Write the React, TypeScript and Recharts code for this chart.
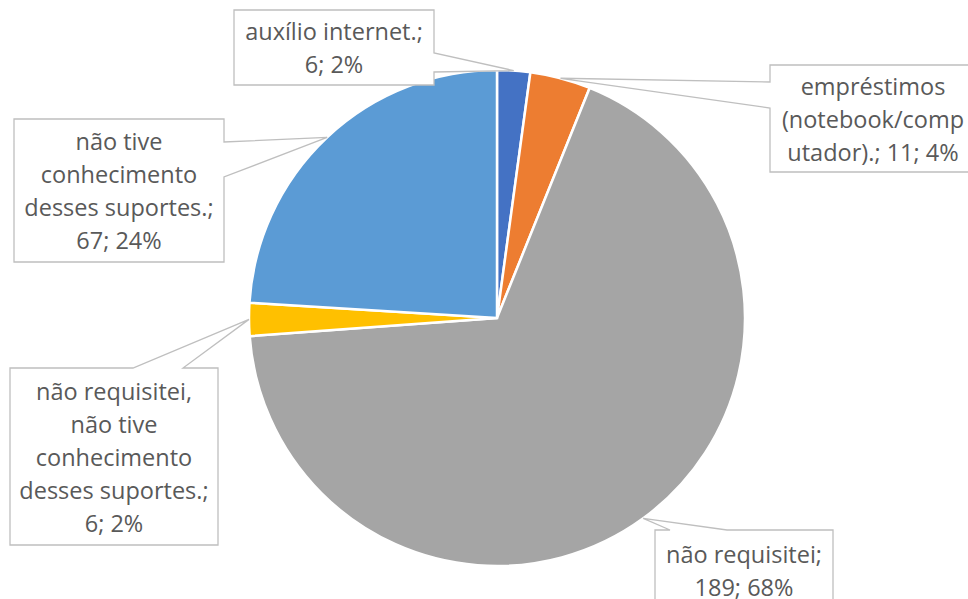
import { Pie, PieChart, Cell } from 'recharts';

// categorias na ordem em que aparecem (sentido horário a partir do topo)
const categories = [
  'auxílio internet.',
  'empréstimos (notebook/computador).',
  'não requisitei',
  'não requisitei, não tive conhecimento desses suportes.',
  'não tive conhecimento desses suportes.',
];
const values = [6, 11, 189, 6, 67];
const percents = [2, 4, 68, 2, 24];
const colors = ['#4472C4', '#ED7D31', '#A5A5A5', '#FFC000', '#5B9BD5'];

// texto dos rótulos, quebrado como no original
const labelLines = [
  ['auxílio internet.;', '6; 2%'],
  ['empréstimos', '(notebook/comp', 'utador).; 11; 4%'],
  ['não requisitei;', '189; 68%'],
  ['não requisitei,', 'não tive', 'conhecimento', 'desses suportes.;', '6; 2%'],
  ['não tive', 'conhecimento', 'desses suportes.;', '67; 24%'],
];

// caixas dos rótulos (layout) e base do "bico" do balão
const labelBoxes = [
  { x: 234, y: 10, w: 200, h: 75, side: 'right', a1: 53, a2: 72 },
  { x: 770, y: 65, w: 206, h: 107, side: 'left', a1: 82, a2: 108 },
  { x: 655, y: 530, w: 178, h: 80, side: 'top', a1: 670, a2: 727 },
  { x: 10, y: 368, w: 208, h: 177, side: 'top', a1: 133, a2: 183 },
  { x: 14, y: 119, w: 210, h: 143, side: 'right', a1: 142, a2: 177 },
];

const data = categories.map((name, i) => ({
  name,
  value: values[i],
  pct: percents[i],
}));

const RAD = Math.PI / 180;
const LINE_H = 33;

function calloutPath(b: (typeof labelBoxes)[number], tx: number, ty: number) {
  const { x, y, w, h, side, a1, a2 } = b;
  if (side === 'right') {
    return `M${x},${y} H${x + w} V${a1} L${tx},${ty} L${x + w},${a2} V${y + h} H${x} Z`;
  }
  if (side === 'left') {
    return `M${x},${y} H${x + w} V${y + h} H${x} V${a2} L${tx},${ty} L${x},${a1} Z`;
  }
  return `M${x},${y} H${a1} L${tx},${ty} L${a2},${y} H${x + w} V${y + h} H${x} Z`;
}

function renderLabel(props: any) {
  const { cx, cy, midAngle, outerRadius, index } = props;
  const b = labelBoxes[index];
  const tx = cx + outerRadius * Math.cos(-midAngle * RAD);
  const ty = cy + outerRadius * Math.sin(-midAngle * RAD);
  const lines = labelLines[index];
  const startY = b.y + b.h / 2 - ((lines.length - 1) * LINE_H) / 2;
  return (
    <g key={`lbl-${index}`}>
      <path d={calloutPath(b, tx, ty)} fill='#ffffff' stroke='#BFBFBF' strokeWidth={1.3} />
      <text
        x={b.x + b.w / 2}
        textAnchor='middle'
        dominantBaseline='central'
        fontFamily='"Open Sans", sans-serif'
        fontSize={23.5}
        fill='#595959'
      >
        {lines.map((l, i) => (
          <tspan key={i} x={b.x + b.w / 2} y={startY + i * LINE_H}>
            {l}
          </tspan>
        ))}
      </text>
    </g>
  );
}

export default function App() {
  return (
    <div style={{ position: 'absolute', left: 0, top: 0, background: '#fff' }}>
      <PieChart width={968} height={599} margin={{ top: 0, right: 0, bottom: 0, left: 0 }}>
        <Pie
          data={data}
          dataKey='value'
          nameKey='name'
          cx={497}
          cy={318}
          outerRadius={248}
          startAngle={90}
          endAngle={-270}
          stroke='#ffffff'
          strokeWidth={2.5}
          label={renderLabel}
          labelLine={false}
          isAnimationActive={false}
        >
          {data.map((d, i) => (
            <Cell key={d.name} fill={colors[i]} />
          ))}
        </Pie>
      </PieChart>
    </div>
  );
}
